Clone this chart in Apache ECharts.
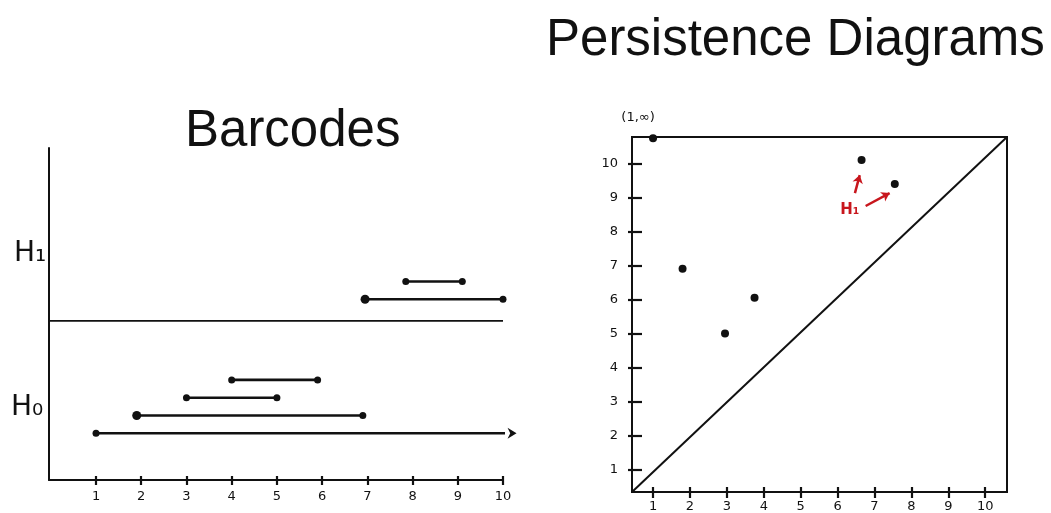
<!DOCTYPE html>
<html>
<head>
<meta charset="utf-8">
<script src="https://cdn.jsdelivr.net/npm/echarts@6/dist/echarts.min.js"></script>
<style>
html,body{margin:0;padding:0;background:#fff;}
#main{width:1051px;height:513px;}
</style>
</head>
<body>
<div id="main"></div>
<script>
// ---- data ----
const barcodeTicks = [1, 2, 3, 4, 5, 6, 7, 8, 9, 10];
const diagramTicks = [1, 2, 3, 4, 5, 6, 7, 8, 9, 10];
// [birth, death] intervals
const h0Bars = [[1, Infinity], [1.9, 6.9], [3, 5], [4, 5.9]];
const h1Bars = [[6.95, 10], [7.85, 9.1]];
// persistence diagram points [birth, death]
const diagramPoints = [[1, Infinity], [1.8, 6.9], [2.95, 5], [3.75, 6.05], [6.65, 10.1], [7.55, 9.4]];
const titles = ['Barcodes', 'Persistence Diagrams'];

// ---- layout ----
const INK = '#111';
const RED = '#c8161d';
const BX = {min: -0.04, max: 10.0};
const BY = {min: 0, max: 19.2};
const PX = {min: 0.43, max: 10.59};
const PY = {min: 0.335, max: 10.78};
const H0_BASE = 2.7, H1_BASE = 10.45, SEP = 9.2, STEP = 1.03;

const series = [];
function barSeries(bars, base, bigIndex) {
  bars.forEach(function (b, i) {
    const row = base + i * STEP;
    const inf = !isFinite(b[1]);
    series.push({
      type: 'line', xAxisIndex: 0, yAxisIndex: 0, clip: false, silent: true, animation: false,
      lineStyle: {color: INK, width: 2.6},
      itemStyle: {color: INK, opacity: 1},
      data: [
        {value: [b[0], row], symbol: 'circle', symbolSize: i === bigIndex ? 9 : 7},
        inf ? {value: [BX.max + 0.2, row], symbol: 'path://M0,0 L10,5 L0,10 L3,5 Z', symbolSize: [9, 11]}
            : {value: [b[1], row], symbol: 'circle', symbolSize: 7}
      ]
    });
  });
}
barSeries(h0Bars, H0_BASE, 1);
barSeries(h1Bars, H1_BASE, 0);
// separator between H0 and H1
series.push({
  type: 'line', xAxisIndex: 0, yAxisIndex: 0, symbol: 'none', silent: true, animation: false,
  lineStyle: {color: INK, width: 1.6},
  data: [[BX.min, SEP], [BX.max, SEP]]
});
// diagonal
series.push({
  type: 'line', xAxisIndex: 2, yAxisIndex: 1, symbol: 'none', silent: true, animation: false,
  lineStyle: {color: INK, width: 2},
  data: [[PX.min, PY.min], [PX.max, PY.max]]
});
// diagram points
series.push({
  type: 'scatter', xAxisIndex: 2, yAxisIndex: 1, clip: false, silent: true, animation: false,
  symbolSize: 8, itemStyle: {color: INK, opacity: 1},
  data: diagramPoints.map(function (p) {
    const inf = !isFinite(p[1]);
    const item = {value: [p[0], inf ? PY.max - 0.04 : p[1]]};
    if (inf) {
      item.label = {show: true, formatter: '(1,\u221e)', position: 'top', distance: 10, offset: [-15, 0],
        color: INK, opacity: 1, fontSize: 13, fontFamily: 'DejaVu Sans'};
    }
    return item;
  }),
  markLine: {
    silent: true, animation: false, symbol: ['none', 'arrow'], symbolSize: 8,
    lineStyle: {color: RED, width: 2.5, type: 'solid', opacity: 1},
    label: {show: false},
    data: [
      [{coord: [6.47, 9.13]}, {coord: [6.6, 9.66]}],
      [{coord: [6.76, 8.75]}, {coord: [7.41, 9.13]}]
    ]
  },
  markPoint: {
    silent: true, animation: false,
    data: [{coord: [6.33, 8.63], symbol: 'circle', symbolSize: 1, itemStyle: {color: 'rgba(0,0,0,0)'},
      label: {show: true, formatter: 'H\u2081', color: RED, fontSize: 15, fontWeight: 'bold', fontFamily: 'DejaVu Sans'}}]
  }
});

function xAx(grid, rng, ticks, outside, withLabels, len, margin) {
  return {
    type: 'value', gridIndex: grid, min: rng.min, max: rng.max, position: 'bottom',
    axisLine: {show: withLabels, onZero: false, lineStyle: {color: INK, width: 2}},
    axisTick: {show: true, inside: !outside, length: len, customValues: ticks, lineStyle: {color: INK, width: 2.2}},
    axisLabel: {show: withLabels, customValues: ticks, margin: margin, color: INK, fontSize: 13, fontFamily: 'DejaVu Sans'},
    splitLine: {show: false}
  };
}

const option = {
  backgroundColor: '#fff',
  animation: false,
  title: [
    {text: titles[0], left: 180, top: 101, textStyle: {fontFamily: 'Liberation Sans', fontWeight: 'normal', fontSize: 51, color: INK}},
    {text: titles[1], left: 541, top: 10, textStyle: {fontFamily: 'Liberation Sans', fontWeight: 'normal', fontSize: 51, color: INK}}
  ],
  graphic: [
    {type: 'text', left: 14, top: 240, style: {text: 'H\u2081', fontSize: 28, fontFamily: 'DejaVu Sans', fill: INK}},
    {type: 'text', left: 11, top: 394, style: {text: 'H\u2080', fontSize: 28, fontFamily: 'DejaVu Sans', fill: INK}}
  ],
  grid: [
    {left: 49, top: 148, right: 548, bottom: 33},
    {left: 632, top: 137, right: 44, bottom: 21, show: true, borderColor: INK, borderWidth: 2}
  ],
  xAxis: [
    xAx(0, BX, barcodeTicks, true, true, 5, 10),
    xAx(0, BX, barcodeTicks, false, false, 4, 0),
    xAx(1, PX, diagramTicks, true, true, 6, 8),
    xAx(1, PX, diagramTicks, false, false, 5, 0)
  ],
  yAxis: [
    {type: 'value', gridIndex: 0, min: BY.min, max: BY.max,
      axisLine: {show: true, onZero: false, lineStyle: {color: INK, width: 2}},
      axisTick: {show: false}, axisLabel: {show: false}, splitLine: {show: false}},
    {type: 'value', gridIndex: 1, min: PY.min, max: PY.max,
      axisLine: {show: true, onZero: false, lineStyle: {color: INK, width: 2}},
      axisTick: {show: true, inside: true, length: 10, customValues: diagramTicks, lineStyle: {color: INK, width: 2.2}},
      axisLabel: {show: true, customValues: diagramTicks, margin: 14, color: INK, fontSize: 13, fontFamily: 'DejaVu Sans'},
      splitLine: {show: false}},
    {type: 'value', gridIndex: 1, min: PY.min, max: PY.max,
      axisLine: {show: false, onZero: false},
      axisTick: {show: true, inside: false, length: 4, customValues: diagramTicks, lineStyle: {color: INK, width: 2.2}},
      axisLabel: {show: false}, splitLine: {show: false}, position: 'left'}
  ],
  series: series
};

const chart = echarts.init(document.getElementById('main'), null, {renderer: 'canvas'});
chart.setOption(option);
</script>
</body>
</html>
